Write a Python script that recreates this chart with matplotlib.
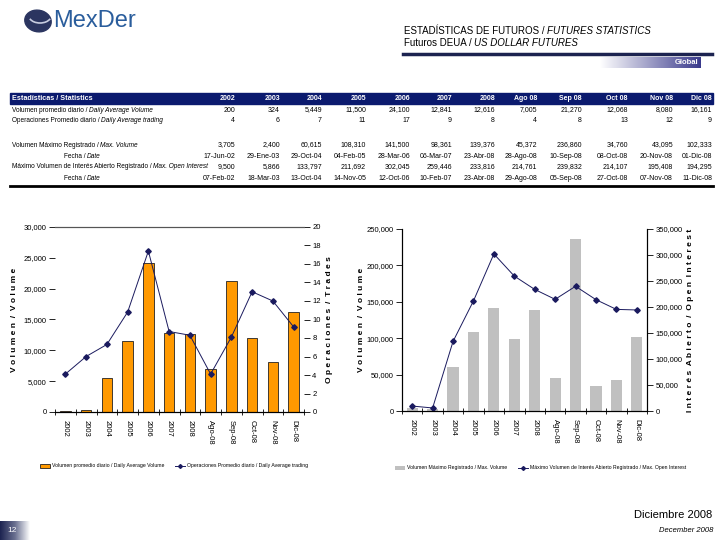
import numpy as np
import matplotlib
matplotlib.use("Agg")
import matplotlib.pyplot as plt
from matplotlib.colors import LinearSegmentedColormap
from matplotlib.patches import Ellipse, Rectangle, Arc
from matplotlib.lines import Line2D

# ---- data ----
categories = ['2002', '2003', '2004', '2005', '2006', '2007', '2008',
              'Ago-08', 'Sep-08', 'Oct-08', 'Nov-08', 'Dic-08']
table_cols = ['2002', '2003', '2004', '2005', '2006', '2007', '2008',
              'Ago 08', 'Sep 08', 'Oct 08', 'Nov 08', 'Dic 08']

avg_volume = [200, 324, 5449, 11500, 24100, 12841, 12616, 7005, 21270, 12068, 8080, 16161]
avg_trades = [4.1, 6.0, 7.3, 10.8, 17.4, 8.7, 8.3, 4.1, 8.1, 13.0, 12.0, 9.2]

max_volume = [3705, 2400, 60615, 108310, 141500, 98361, 139376, 45372, 236860, 34760, 43095, 102333]
max_vol_dates = ['17-Jun-02', '29-Ene-03', '29-Oct-04', '04-Feb-05', '28-Mar-06', '06-Mar-07',
                 '23-Abr-08', '28-Ago-08', '10-Sep-08', '08-Oct-08', '20-Nov-08', '01-Dic-08']
max_oi = [9500, 5866, 133797, 211692, 302045, 259446, 233816, 214761, 239832, 214107, 195408, 194295]
max_oi_dates = ['07-Feb-02', '18-Mar-03', '13-Oct-04', '14-Nov-05', '12-Oct-06', '10-Feb-07',
                '23-Abr-08', '29-Ago-08', '05-Sep-08', '27-Oct-08', '07-Nov-08', '11-Dic-08']

NAVY = '#0b1a6e'
DARK = '#1c2350'
ORANGE = '#ff9900'
GREY = '#c0c0c0'
LINE = '#1a1a5e'

plt.rcParams['font.family'] = ['Liberation Sans', 'DejaVu Sans']
LSIZE = 4.7   # table row labels
VSIZE = 5.0   # table values

W, H = 720, 540
fig = plt.figure(figsize=(7.2, 5.4), dpi=100)
renderer = fig.canvas.get_renderer()


def fx(px):
    return px / W


def fy(py):
    return 1 - py / H


def two_part(x, y, normal, italic, **kw):
    # normal text followed by italic text on the same baseline
    t = fig.text(fx(x), fy(y), normal, va='center', ha='left', **kw)
    bb = t.get_window_extent(renderer)
    fig.text(bb.x1 / W, fy(y), italic, va='center', ha='left', style='italic', **kw)


def gradient(x0, y0, x1, y1, colors):
    ax = fig.add_axes([fx(x0), fy(y1), fx(x1 - x0), (y1 - y0) / H])
    cmap = LinearSegmentedColormap.from_list('g', colors)
    ax.imshow(np.linspace(0, 1, 256)[None, :], cmap=cmap, aspect='auto')
    ax.set_axis_off()
    return ax


# ---- header ----
fig.add_artist(Ellipse((fx(38), fy(21)), fx(26), 22 / H, angle=20,
                       transform=fig.transFigure, color='#2b3560'))
fig.add_artist(Arc((fx(40), fy(16)), fx(22), 14 / H, theta1=200, theta2=340,
                   transform=fig.transFigure, color='#c8cde0', lw=1.2))
fig.text(fx(53), fy(21), 'MexDer', fontsize=17, color='#2a5d9c', va='center', ha='left')

two_part(404, 31, 'ESTADÍSTICAS DE FUTUROS / ', 'FUTURES STATISTICS',
         fontsize=7, color='black')
two_part(404, 43, 'Futuros DEUA / ', 'US DOLLAR FUTURES', fontsize=7, color='black')
fig.add_artist(Line2D([fx(403), fx(712)], [fy(54), fy(54)], transform=fig.transFigure,
                      color=DARK, lw=2.5))
gradient(600, 57, 700, 68, ['white', '#3a3a8c'])
fig.text(fx(698), fy(62), 'Global', fontsize=5.5, color='white', ha='right', va='center',
         weight='bold')

# ---- table ----
col_right = [235, 280, 322, 366, 410, 452, 495, 537, 582, 628, 673, 712]
fig.add_artist(Rectangle((fx(10), fy(104)), fx(703), 11 / H, transform=fig.transFigure,
                         color=NAVY))
fig.text(fx(12), fy(98.5), 'Estadísticas / Statistics', color='white', ha='left',
         va='center', weight='bold', fontsize=5.2)
for xr, c in zip(col_right, table_cols):
    fig.text(fx(xr), fy(98.5), c, color='white', ha='right', va='center', weight='bold',
             fontsize=VSIZE)

rows = [
    (110, 12, 'Volumen promedio diario / ', 'Daily Average Volume',
     ['{:,}'.format(v) for v in avg_volume]),
    (121, 12, 'Operaciones Promedio diario / ', 'Daily Average trading',
     ['{:.0f}'.format(v) for v in avg_trades]),
    (145, 12, 'Volumen Máximo Registrado / ', 'Max. Volume',
     ['{:,}'.format(v) for v in max_volume]),
    (156, 64, 'Fecha / ', 'Date', max_vol_dates),
    (167, 12, 'Máximo Volumen de Interés Abierto Registrado / ', 'Max. Open Interest',
     ['{:,}'.format(v) for v in max_oi]),
    (179, 64, 'Fecha / ', 'Date', max_oi_dates),
]
for y, x, lab, lab_it, vals in rows:
    two_part(x, y, lab, lab_it, fontsize=LSIZE, color='black')
    for xr, v in zip(col_right, vals):
        fig.text(fx(xr), fy(y), v, ha='right', va='center', color='black', fontsize=VSIZE)
fig.add_artist(Line2D([fx(10), fx(713)], [fy(186), fy(186)], transform=fig.transFigure,
                      color='black', lw=2))

x = np.arange(len(categories))

# ---- left chart ----
ax1 = fig.add_axes([fx(55), fy(412), fx(249), (412 - 227) / H])
ax1.bar(x, avg_volume, width=0.5, color=ORANGE, edgecolor='#222222', linewidth=0.6,
        label='Volumen promedio diario / Daily Average Volume')
ax1.set_ylim(0, 30000)
ax1.set_yticks(range(0, 30001, 5000))
ax1.set_yticklabels(['{:,}'.format(v) for v in range(0, 30001, 5000)])
ax1.set_xlim(-0.5, len(categories) - 0.5)
ax1.set_ylabel('V o l u m e n  /  V o l u m e', fontsize=6, weight='bold', labelpad=4)
ax1b = ax1.twinx()
ax1b.plot(x, avg_trades, color=LINE, lw=0.7, marker='D', ms=2.8,
          label='Operaciones Promedio diario / Daily Average trading')
ax1b.set_ylim(0, 20)
ax1b.set_yticks(range(0, 21, 2))
ax1b.set_ylabel('O p e r a c i o n e s  /  T r a d e s', fontsize=6, weight='bold',
                rotation=90, labelpad=4)

# ---- right chart ----
ax2 = fig.add_axes([fx(402), fy(411), fx(245), (411 - 229) / H])
ax2.bar(x, max_volume, width=0.55, color=GREY,
        label='Volumen Máximo Registrado / Max. Volume')
ax2.set_ylim(0, 250000)
ax2.set_yticks(range(0, 250001, 50000))
ax2.set_yticklabels(['{:,}'.format(v) for v in range(0, 250001, 50000)])
ax2.set_xlim(-0.5, len(categories) - 0.5)
ax2.set_ylabel('V o l u m e n  /  V o l u m e', fontsize=6, weight='bold', labelpad=1)
ax2b = ax2.twinx()
ax2b.plot(x, max_oi, color=LINE, lw=0.7, marker='D', ms=2.8,
          label='Máximo Volumen de Interés Abierto Registrado / Max. Open Interest')
ax2b.set_ylim(0, 350000)
ax2b.set_yticks(range(0, 350001, 50000))
ax2b.set_yticklabels(['{:,}'.format(v) for v in range(0, 350001, 50000)])
ax2b.set_ylabel('I n t e r é s  A b i e r t o  /  O p e n  I n t e r e s t', fontsize=6,
                weight='bold', rotation=90, labelpad=3)

for a in (ax1, ax2):
    a.set_xticks(x)
    a.set_xticklabels(categories, rotation=-90, fontsize=5.5)
    a.set_xticks(np.arange(-0.5, len(categories), 1), minor=True)
    a.tick_params(axis='x', which='major', length=0, pad=6)
    a.tick_params(axis='x', which='minor', length=4, direction='inout', width=0.6)
    a.tick_params(axis='y', labelsize=5.5, length=4, width=0.6, pad=2)
for a in (ax1b, ax2b):
    a.tick_params(axis='y', labelsize=5.5, length=4, width=0.6, pad=2)

for a in (ax1, ax1b):
    a.spines['left'].set_visible(False)
    a.spines['right'].set_visible(False)
    a.spines['top'].set_color('#555555')
    a.spines['top'].set_linewidth(0.8)
for a in (ax2, ax2b):
    a.spines['top'].set_visible(False)
    a.spines['left'].set_linewidth(0.8)
    a.spines['right'].set_linewidth(0.8)

# legends
for ax_bar, ax_line, lx, ly in ((ax1, ax1b, 40, 466), (ax2, ax2b, 395, 468)):
    h1, l1 = ax_bar.get_legend_handles_labels()
    h2, l2 = ax_line.get_legend_handles_labels()
    ax_bar.legend(h1 + h2, l1 + l2, loc='center left', bbox_to_anchor=(fx(lx), fy(ly)),
                  bbox_transform=fig.transFigure, ncol=2, frameon=False,
                  prop={'size': 3.7}, handlelength=2.0, markerscale=0.7,
                  handleheight=0.8, handletextpad=0.4, columnspacing=2.0,
                  borderaxespad=0, borderpad=0)

# ---- footer ----
fig.text(fx(712), fy(515), 'Diciembre 2008', fontsize=8, ha='right', va='center')
fig.text(fx(713), fy(531), 'December 2008', fontsize=5.5, ha='right', va='center',
         style='italic')
gradient(0, 521, 30, 540, ['#1c2350', '#6a7090', 'white'])
fig.text(fx(12), fy(530), '12', fontsize=6, color='white', ha='center', va='center')

fig.savefig('out.png', dpi=100)
